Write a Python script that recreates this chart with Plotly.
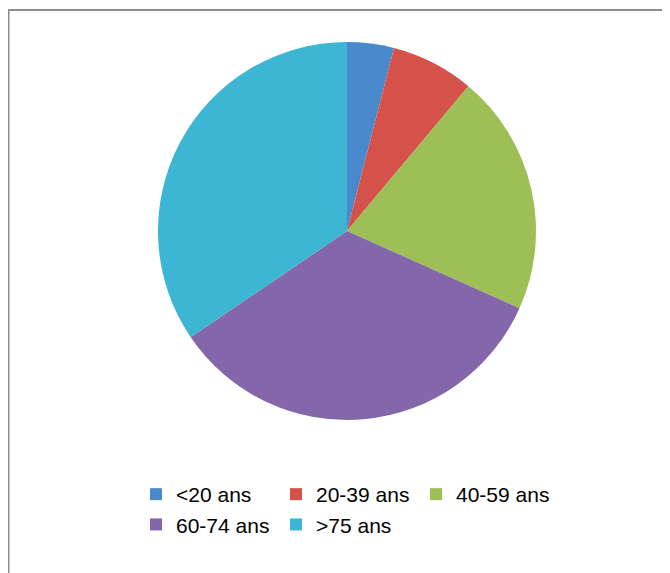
import plotly.graph_objects as go

labels = ["<20 ans", "20-39 ans", "40-59 ans", "60-74 ans", ">75 ans"]
values = [4.0, 7.1, 20.6, 33.8, 34.5]
colors = ["#4A89CC", "#D4524A", "#9DBF56", "#8466AA", "#3DB6D3"]

W, H = 670, 573
OFF = 8  # page body margin
ML, MR = 120, 70          # plot-area margins (controls legend wrapping)
PW = W - ML - MR          # plot-area width


def px(xpix):
    """figure pixel -> paper fraction (x)"""
    return (xpix - ML) / PW


fig = go.Figure(go.Pie(
    labels=labels,
    values=values,
    sort=False,
    direction="clockwise",
    rotation=0,
    textinfo="none",
    marker=dict(colors=colors, line=dict(width=0)),
    domain=dict(x=[px(158 - OFF), px(536 - OFF)],
                y=[1 - (420 - OFF) / H, 1 - (42 - OFF) / H]),
))

fig.update_layout(
    width=W, height=H,
    margin=dict(l=ML, r=MR, t=0, b=0),
    paper_bgcolor="white",
    plot_bgcolor="white",
    font=dict(family="Liberation Sans, Arial, sans-serif", size=21, color="#000000"),
    showlegend=True,
    legend=dict(
        orientation="h",
        x=px(128), xanchor="left",
        y=1 - 466 / H, yanchor="top",
        entrywidth=95,
        itemwidth=30,
        font=dict(size=21),
        bgcolor="rgba(0,0,0,0)",
    ),
    shapes=[dict(
        type="rect", xref="paper", yref="paper",
        x0=px(0.5), x1=px(W + 20), y0=-0.05, y1=1 - 2 / H,
        line=dict(color="#8C8C8C", width=2),
        fillcolor="rgba(0,0,0,0)",
        layer="below",
    )],
)

fig.write_html("out.html")
